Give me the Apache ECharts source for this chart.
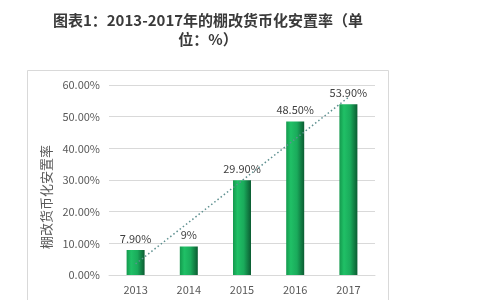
<!DOCTYPE html>
<html><head><meta charset="utf-8">
<script src="https://cdn.jsdelivr.net/npm/echarts@6/dist/echarts.min.js"></script>
<style>html,body{margin:0;padding:0;background:#fff}#c{width:495px;height:300px}</style>
</head><body><div id="c"></div>
<script>
const categories = ['2013', '2014', '2015', '2016', '2017'];
const values = [7.9, 9, 29.9, 48.5, 53.9];
const valueLabels = ['7.90%', '9%', '29.90%', '48.50%', '53.90%'];
const trendValues = [3.5, null, null, null, 56.1];
const yTicks = [0, 10, 20, 30, 40, 50, 60];

const font = '"Noto Sans CJK SC", "Noto Sans", sans-serif';
const chart = echarts.init(document.getElementById('c'), null, {renderer: 'canvas'});
chart.setOption({
  animation: false,
  backgroundColor: '#fff',
  graphic: [
    {type: 'rect', shape: {x: 27.5, y: 70.5, width: 361, height: 240}, style: {fill: 'none', stroke: '#d9d9d9', lineWidth: 1}, z: -1},
    {type: 'text', x: 208, y: 30,
     style: {text: '图表1：2013-2017年的棚改货币化安置率（单\n位：%）', fontFamily: font, fontSize: 15, fontWeight: 'bold',
       fill: '#3a3a3a', align: 'center', verticalAlign: 'middle', lineHeight: 19}},
    {type: 'text', x: 46, y: 197, rotation: Math.PI / 2,
     style: {text: '棚改货币化安置率', fontFamily: font, fontSize: 13, fill: '#595959', align: 'center', verticalAlign: 'middle'}}
  ],
  grid: {left: 109, right: 120, top: 85, bottom: 25},
  xAxis: {
    type: 'category', data: categories,
    axisLine: {lineStyle: {color: '#d9d9d9'}},
    axisTick: {show: false},
    axisLabel: {color: '#595959', fontFamily: font, fontSize: 11, margin: 9}
  },
  yAxis: {
    type: 'value', min: yTicks[0], max: yTicks[yTicks.length - 1], interval: 10,
    axisLine: {show: false}, axisTick: {show: false},
    splitLine: {lineStyle: {color: '#d9d9d9'}},
    axisLabel: {color: '#595959', fontFamily: font, fontSize: 11, margin: 9,
      formatter: v => v.toFixed(2) + '%'}
  },
  series: [
    {
      type: 'bar', data: values, barWidth: 18,
      itemStyle: {
        color: new echarts.graphic.LinearGradient(0, 0, 1, 0, [
          {offset: 0, color: '#14994d'},
          {offset: 0.25, color: '#20c066'},
          {offset: 0.6, color: '#1aab5b'},
          {offset: 1, color: '#0b5c32'}
        ])
      },
      label: {show: true, position: 'top', distance: 6, color: '#404040', fontFamily: font, fontSize: 11,
        formatter: p => valueLabels[p.dataIndex]}
    },
    {
      type: 'line', data: trendValues, connectNulls: true, symbol: 'none', z: 5,
      lineStyle: {color: '#5e9090', width: 1.5, type: [1.5, 2.5]}
    }
  ]
});
</script></body></html>
